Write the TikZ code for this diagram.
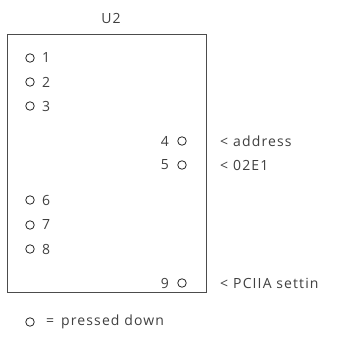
\documentclass[tikz,border=0pt]{standalone}
\usepackage{fontspec}
\setmainfont{Open Sans}[LetterSpace=8]
\begin{document}
\begin{tikzpicture}[x=1pt,y=-1pt,
  lbl/.style={inner sep=0pt,font=\fontsize{14}{16}\selectfont,text=black!75},
  sw/.style={circle,draw=black!85,line width=0.8pt,minimum size=8.5pt,inner sep=0pt}]
\clip (0,0) rectangle (341,340);
\fill[white] (0,0) rectangle (341,340);
\node[lbl] (title) at (111,18) {U2};
\draw[black!70,line width=0.6pt] (7,34) rectangle (206,292);
\node[sw] (c1) at (30,58) {}; \node[lbl,anchor=west] (n1) at (42,58) {1};
\node[sw] (c2) at (30,82) {}; \node[lbl,anchor=west] (n2) at (42,82) {2};
\node[sw] (c3) at (30,106) {}; \node[lbl,anchor=west] (n3) at (42,106) {3};
\node[sw] (c4) at (182,141) {}; \node[lbl,anchor=east] (n4) at (169,141) {4};
\node[sw] (c5) at (182,165) {}; \node[lbl,anchor=east] (n5) at (169,165) {5};
\node[sw] (c6) at (30,200) {}; \node[lbl,anchor=west] (n6) at (42,200) {6};
\node[sw] (c7) at (30,225) {}; \node[lbl,anchor=west] (n7) at (42,225) {7};
\node[sw] (c8) at (30,249) {}; \node[lbl,anchor=west] (n8) at (42,249) {8};
\node[sw] (c9) at (182,283) {}; \node[lbl,anchor=east] (n9) at (169,283) {9};
\node[lbl,anchor=west] (a4) at (220,141) {<\hspace{5pt}address};
\node[lbl,anchor=west] (a5) at (220,165) {<\hspace{5pt}02E1};
\node[lbl,anchor=west] (a9) at (220,283) {<\hspace{5pt}PCIIA settin};
\node[sw] (cl) at (30,322) {}; \node[lbl,anchor=west] (leg) at (46,322) {=\hspace{7pt}pressed down};
\end{tikzpicture}
\end{document}
